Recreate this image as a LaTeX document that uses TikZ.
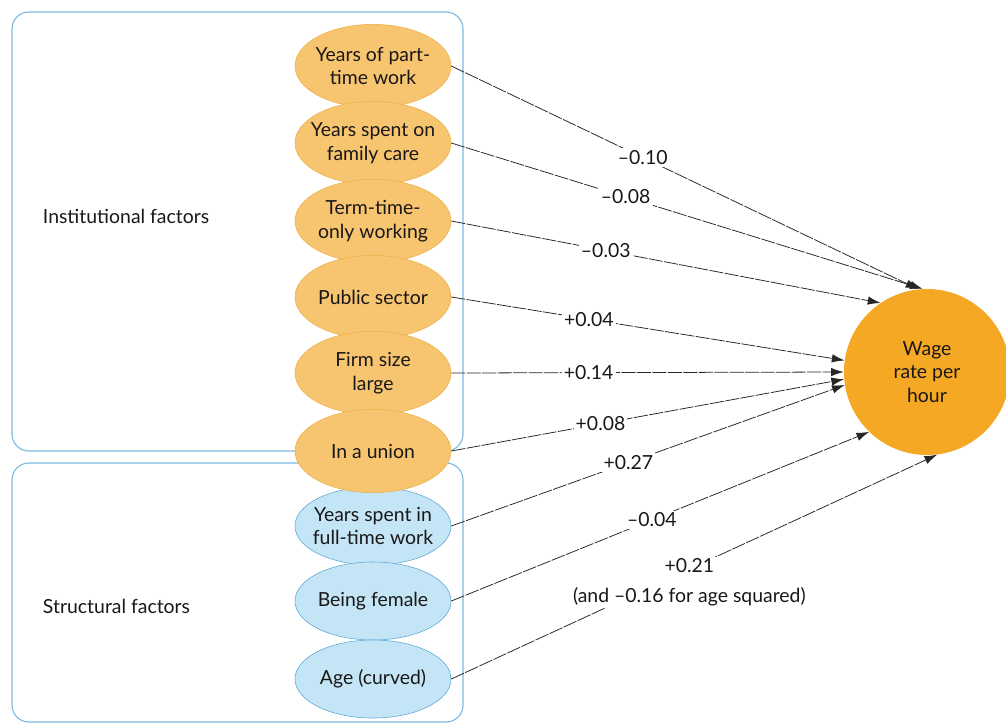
\documentclass[tikz,border=0pt]{standalone}
\usepackage{fontspec}
\setmainfont{Lato}
\usetikzlibrary{shapes.geometric, arrows.meta}
\definecolor{boxblue}{HTML}{7DB9E2}
\definecolor{instfill}{HTML}{F7C56F}
\definecolor{instline}{HTML}{EDB04A}
\definecolor{structfill}{HTML}{C4E5F6}
\definecolor{structline}{HTML}{5DA6D6}
\definecolor{wagefill}{HTML}{F5A823}
\definecolor{ink}{HTML}{1A1718}
\tikzset{
  group/.style={draw=boxblue, line width=0.8pt, rounded corners=12pt},
  inst/.style={ellipse, draw=instline, fill=instfill, minimum width=3.9cm, minimum height=2.08cm, inner sep=0pt},
  struct/.style={ellipse, draw=structline, fill=structfill, minimum width=3.9cm, minimum height=1.95cm, inner sep=0pt},
  txt/.style={align=center, text=ink, font=\fontsize{13.8}{16.8}\selectfont},
  effect/.style={draw=black!85, line width=0.55pt, dash pattern=on 10pt off 1pt, -{Latex[length=9pt,width=6pt]}},
  coef/.style={fill=white, inner sep=1.5pt, text=ink, align=center, font=\fontsize{13.8}{21}\selectfont}
}

\begin{document}
\begin{tikzpicture}[x=0.025cm, y=-0.025cm]
\useasboundingbox (0,0) rectangle (1006,726);

\draw[group] (12,12) rectangle (463,451);
\draw[group] (12,463) rectangle (463,722);
\path (38,216) node[anchor=west, txt] (instlabel) {Institutional factors};
\path (38,606) node[anchor=west, txt] (structlabel) {Structural factors};

\path (373,526) node[struct, label={[txt]center:Years spent in\\full-time work}] (fulltime) {};
\path (373,601) node[struct, label={[txt]center:Being female}] (female) {};
\path (373,679) node[struct, label={[txt]center:Age (curved)}] (age) {};

\path (373,66) node[inst, label={[txt]center:Years of part-\\time work}] (parttime) {};
\path (373,143) node[inst, label={[txt]center:Years spent on\\family care}] (care) {};
\path (373,221) node[inst, label={[txt]center:Term-time-\\only working}] (termtime) {};
\path (373,297) node[inst, label={[txt]center:Public sector}] (public) {};
\path (373,373) node[inst, label={[txt]center:Firm size\\large}] (firm) {};
\path (373,451) node[inst, label={[txt]center:In a union}] (union) {};

\path (927,372) node[circle, fill=wagefill, minimum size=4.15cm, txt] (wage) {Wage\\rate per\\hour};

\draw[effect] (parttime.east) -- (wage.96) node[coef, pos=0.41] {\textendash0.10};
\draw[effect] (care.east) -- (wage.93) node[coef, pos=0.37] {\textendash0.08};
\draw[effect] (termtime.east) -- (wage.124) node[coef, pos=0.36] {\textendash0.03};
\draw[effect] (public.east) -- (wage.172) node[coef, pos=0.35] {+0.04};
\draw[effect] (firm.east) -- (wage.180) node[coef, pos=0.35] {+0.14};
\draw[effect] (union.east) -- (wage.185) node[coef, pos=0.38] {+0.08};
\draw[effect] (fulltime.east) -- (wage.189) node[coef, pos=0.45] {+0.27};
\draw[effect] (female.east) -- (wage.226) node[coef, pos=0.48] {\textendash0.04};
\draw[effect] (age.east) -- (wage.277) node[coef, pos=0.49, yshift=-0.33cm] {+0.21\\(and \textendash0.16 for age squared)};
\end{tikzpicture}
\end{document}
